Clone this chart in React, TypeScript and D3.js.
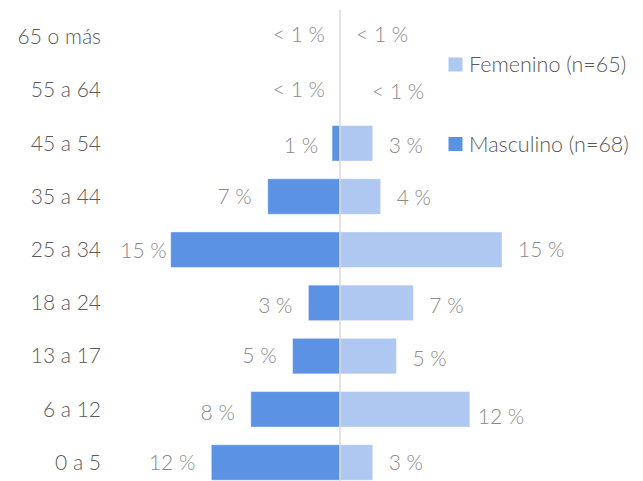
import { useMemo } from "react";
import * as d3 from "d3";

// age groups, top to bottom
const AGE_GROUPS = ["65 o más", "55 a 64", "45 a 54", "35 a 44", "25 a 34", "18 a 24", "13 a 17", "6 a 12", "0 a 5"];

// shares in percent
const MALE = [0, 0, 0.7, 6.4, 15.0, 2.8, 4.2, 7.9, 11.4];
const FEMALE = [0, 0, 2.9, 3.6, 14.35, 6.5, 5.0, 11.5, 2.9];

// printed labels
const MALE_LABELS = ["< 1 %", "< 1 %", "1 %", "7 %", "15 %", "3 %", "5 %", "8 %", "12 %"];
const FEMALE_LABELS = ["< 1 %", "< 1 %", "3 %", "4 %", "15 %", "7 %", "5 %", "12 %", "3 %"];

const SERIES = ["Femenino (n=65)", "Masculino (n=68)"];

const W = 643;
const H = 481;
const CENTER = 340;
const FONT = "Lato, 'Open Sans', sans-serif";
const MALE_COLOR = "#5b92e4";
const FEMALE_COLOR = "#aec8f1";

// hand-placed label nudges, like the original
const maleNudge: Record<number, [number, number]> = { 4: [12, 1], 5: [0, 3], 7: [0, 3], 0: [1, -2], 1: [1, 0], 2: [2, 2] };
const femaleNudge: Record<number, [number, number]> = { 1: [16, 2], 7: [-8, 7], 6: [0, 3], 5: [0, 3], 2: [0, 2], 3: [0, 1], 0: [0, -2] };

export default function App() {
  const y = useMemo(
    () => d3.scaleBand<string>().domain(AGE_GROUPS).range([10.3, 489.1]).paddingInner(0.333).paddingOuter(0.1667),
    []
  );
  // px per percent, same on both sides
  const xm = d3.scaleLinear().domain([0, 15]).range([CENTER, CENTER - 169.3]);
  const xf = d3.scaleLinear().domain([0, 15]).range([CENTER, CENTER + 169.3]);

  const gap = 16;

  return (
    <svg width={W} height={H} style={{ position: "absolute", left: 0, top: 0, background: "#fff" }}
      fontFamily={FONT} fontWeight={300}>
      {AGE_GROUPS.map((g, i) => {
        const top = y(g) ?? 0;
        const bh = y.bandwidth();
        const cy = top + bh / 2;
        const mn = maleNudge[i] ?? [0, 0];
        const fn = femaleNudge[i] ?? [0, 0];
        return (
          <g key={g}>
            <text x={101} y={cy} dy="0.35em" textAnchor="end" fontSize={21} fill="#595959">{g}</text>
            {MALE[i] > 0 && (
              <rect x={xm(MALE[i])} y={top} width={CENTER - xm(MALE[i])} height={bh}
                fill={MALE_COLOR} stroke="#ffffff" strokeOpacity={0.4} strokeWidth={1} />
            )}
            {FEMALE[i] > 0 && (
              <rect x={CENTER} y={top} width={xf(FEMALE[i]) - CENTER} height={bh}
                fill={FEMALE_COLOR} stroke="#ffffff" strokeOpacity={0.4} strokeWidth={1} />
            )}
            <text x={xm(MALE[i]) - gap + mn[0]} y={cy + mn[1]} dy="0.35em" textAnchor="end" fontSize={21} fill="#8a8a8a">
              {MALE_LABELS[i]}
            </text>
            <text x={xf(FEMALE[i]) + gap + fn[0]} y={cy + fn[1]} dy="0.35em" textAnchor="start" fontSize={21} fill="#8a8a8a">
              {FEMALE_LABELS[i]}
            </text>
          </g>
        );
      })}
      <line x1={CENTER} x2={CENTER} y1={10} y2={H} stroke="#d9d9d9" strokeWidth={1.5} />
      {SERIES.map((s, i) => {
        const cy = i === 0 ? 64.5 : 144;
        return (
          <g key={s}>
            <rect x={448.5} y={cy - 7} width={14} height={14} fill={i === 0 ? FEMALE_COLOR : MALE_COLOR} />
            <text x={469} y={cy} dy="0.35em" fontSize={21.5} fill="#595959">{s}</text>
          </g>
        );
      })}
    </svg>
  );
}
